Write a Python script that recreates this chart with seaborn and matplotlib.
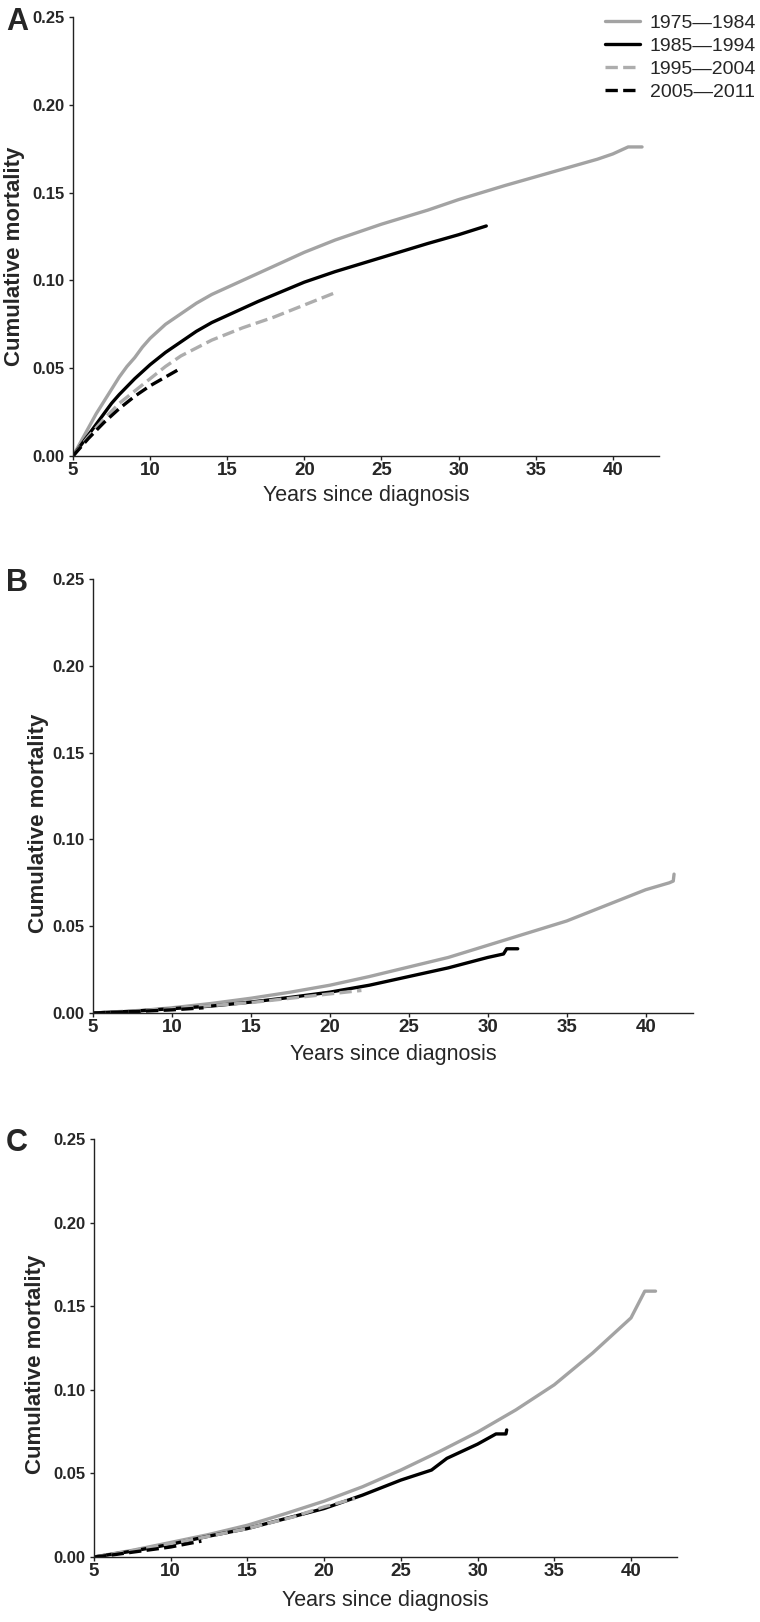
import numpy as np
import pandas as pd
import matplotlib
matplotlib.use('Agg')
import matplotlib.pyplot as plt
import seaborn as sns

# periodos de diagnostico (leyenda)
periodos = ['1975\u20141984', '1985\u20141994', '1995\u20142004', '2005\u20142011']
colores = ['#a3a3a3', '#000000', '#adadad', '#000000']
estilos = ['-', '-', '--', '--']

# Panel A
a_x_1 = [5, 5.5, 6, 6.5, 7, 7.5, 8, 8.5, 9, 9.5, 10, 11, 12, 13, 14, 15, 17, 20, 22, 25, 28, 30, 33, 35, 37, 39, 40, 41, 41.9]
a_y_1 = [0, 0.008, 0.016, 0.024, 0.031, 0.038, 0.045, 0.051, 0.056, 0.062, 0.067, 0.075, 0.081, 0.087, 0.092, 0.096, 0.104, 0.116, 0.123, 0.132, 0.140, 0.146, 0.154, 0.159, 0.164, 0.169, 0.172, 0.176, 0.176]
a_x_2 = [5, 5.5, 6, 6.5, 7, 7.5, 8, 9, 10, 11, 12, 13, 14, 15, 17, 20, 22, 25, 28, 30, 31.8]
a_y_2 = [0, 0.006, 0.012, 0.018, 0.024, 0.030, 0.035, 0.044, 0.052, 0.059, 0.065, 0.071, 0.076, 0.080, 0.088, 0.099, 0.105, 0.113, 0.121, 0.126, 0.131]
a_x_3 = [5, 6, 7, 8, 9, 10, 11, 12, 14, 16, 18, 20, 22]
a_y_3 = [0, 0.011, 0.021, 0.030, 0.037, 0.044, 0.051, 0.057, 0.066, 0.073, 0.079, 0.086, 0.093]
a_x_4 = [5, 6, 7, 8, 9, 10, 11, 12]
a_y_4 = [0, 0.010, 0.019, 0.027, 0.034, 0.040, 0.045, 0.050]

# Panel B
b_x_1 = [5, 7.5, 10, 12.5, 15, 17.5, 20, 22.5, 25, 27.5, 30, 32.5, 35, 37.5, 40, 41.5, 41.75, 41.8]
b_y_1 = [0, 0.001, 0.003, 0.0055, 0.0085, 0.012, 0.016, 0.021, 0.0265, 0.032, 0.039, 0.046, 0.053, 0.062, 0.071, 0.075, 0.076, 0.080]
b_x_2 = [5, 7.5, 10, 12.5, 15, 17.5, 20, 22.5, 25, 27.5, 30, 31, 31.2, 31.9]
b_y_2 = [0, 0.001, 0.0025, 0.004, 0.0063, 0.009, 0.012, 0.016, 0.021, 0.026, 0.032, 0.034, 0.037, 0.037]
b_x_3 = [5, 10, 15, 20, 22]
b_y_3 = [0, 0.0025, 0.006, 0.011, 0.013]
b_x_4 = [5, 8, 10, 12]
b_y_4 = [0, 0.001, 0.0018, 0.003]

# Panel C
c_x_1 = [5, 7.5, 10, 12.5, 15, 17.5, 20, 22.5, 25, 27.5, 30, 32.5, 35, 37.5, 40, 40.9, 41.6]
c_y_1 = [0, 0.004, 0.0087, 0.0135, 0.019, 0.026, 0.0334, 0.042, 0.052, 0.063, 0.0747, 0.088, 0.103, 0.122, 0.143, 0.159, 0.159]
c_x_2 = [5, 7.5, 10, 12.5, 15, 17.5, 20, 22.5, 25, 27, 28, 30, 31.2, 31.85, 31.9]
c_y_2 = [0, 0.0035, 0.0076, 0.0125, 0.017, 0.023, 0.029, 0.037, 0.046, 0.052, 0.059, 0.0675, 0.0736, 0.0736, 0.076]
c_x_3 = [5, 7, 10, 12, 15, 18, 20, 22]
c_y_3 = [0, 0.003, 0.008, 0.0115, 0.017, 0.024, 0.030, 0.035]
c_x_4 = [5, 6, 8, 10, 12]
c_y_4 = [0, 0.001, 0.0035, 0.006, 0.0095]

paneles = {
    'A': [(a_x_1, a_y_1), (a_x_2, a_y_2), (a_x_3, a_y_3), (a_x_4, a_y_4)],
    'B': [(b_x_1, b_y_1), (b_x_2, b_y_2), (b_x_3, b_y_3), (b_x_4, b_y_4)],
    'C': [(c_x_1, c_y_1), (c_x_2, c_y_2), (c_x_3, c_y_3), (c_x_4, c_y_4)],
}

sns.set_style('ticks')
plt.rcParams['font.family'] = ['Liberation Sans', 'DejaVu Sans']

W, H = 760, 1622
fig = plt.figure(figsize=(W / 100, H / 100), dpi=100)

# caja de cada panel en pixeles (izq, der, arriba, abajo) + posicion de etiquetas
cajas = {
    'A': dict(box=(73, 659, 17, 456), ylab=(-0.082, 0.456), xlab=-0.066, letra=7),
    'B': dict(box=(93, 693, 579, 1013), ylab=(-0.073, 0.438), xlab=-0.072, letra=568),
    'C': dict(box=(94, 677, 1139, 1557), ylab=(-0.082, 0.46), xlab=-0.079, letra=1128),
}

for nombre, series in paneles.items():
    izq, der, arr, aba = cajas[nombre]['box']
    ax = fig.add_axes([izq / W, 1 - aba / H, (der - izq) / W, (aba - arr) / H])

    for (xs, ys), lab, col, ls in zip(series, periodos, colores, estilos):
        df = pd.DataFrame({'x': xs, 'y': ys})
        sns.lineplot(data=df, x='x', y='y', ax=ax, color=col, linewidth=2.4,
                     linestyle=ls, estimator=None, sort=False, label=lab)

    ax.set_xlim(5, 43)
    ax.set_ylim(0, 0.25)
    ax.set_xticks([5, 10, 15, 20, 25, 30, 35, 40])
    ax.set_yticks([0, 0.05, 0.10, 0.15, 0.20, 0.25])
    ax.set_yticklabels([f'{v:.2f}' for v in ax.get_yticks()])
    sns.despine(ax=ax)
    for s in ['left', 'bottom']:
        ax.spines[s].set_linewidth(1.0)
        ax.spines[s].set_color('#222222')
    ax.tick_params(axis='both', length=3, width=1, color='#222222')
    ax.tick_params(axis='x', pad=1, labelsize=13.5)
    ax.tick_params(axis='y', pad=3, labelsize=12)
    for t in ax.get_xticklabels() + ax.get_yticklabels():
        t.set_fontweight('bold')

    ax.set_xlabel('Years since diagnosis', fontsize=15.5)
    ax.set_ylabel('Cumulative mortality', fontsize=16, fontweight='bold')
    ax.yaxis.set_label_coords(*cajas[nombre]['ylab'])
    ax.xaxis.set_label_coords(0.5, cajas[nombre]['xlab'])

    if nombre == 'A':
        ax.legend(loc='upper right', bbox_to_anchor=(756 / W, 1 - 14 / H),
                  bbox_transform=fig.transFigure, frameon=False, fontsize=14,
                  handlelength=1.8, handletextpad=0.5, labelspacing=0.28,
                  borderpad=0, borderaxespad=0)
    else:
        ax.get_legend().remove()

    fig.text(6 / W, 1 - cajas[nombre]['letra'] / H, nombre, fontsize=22,
             fontweight='bold', ha='left', va='top')

plt.savefig('out.png', dpi=100)
plt.close()
